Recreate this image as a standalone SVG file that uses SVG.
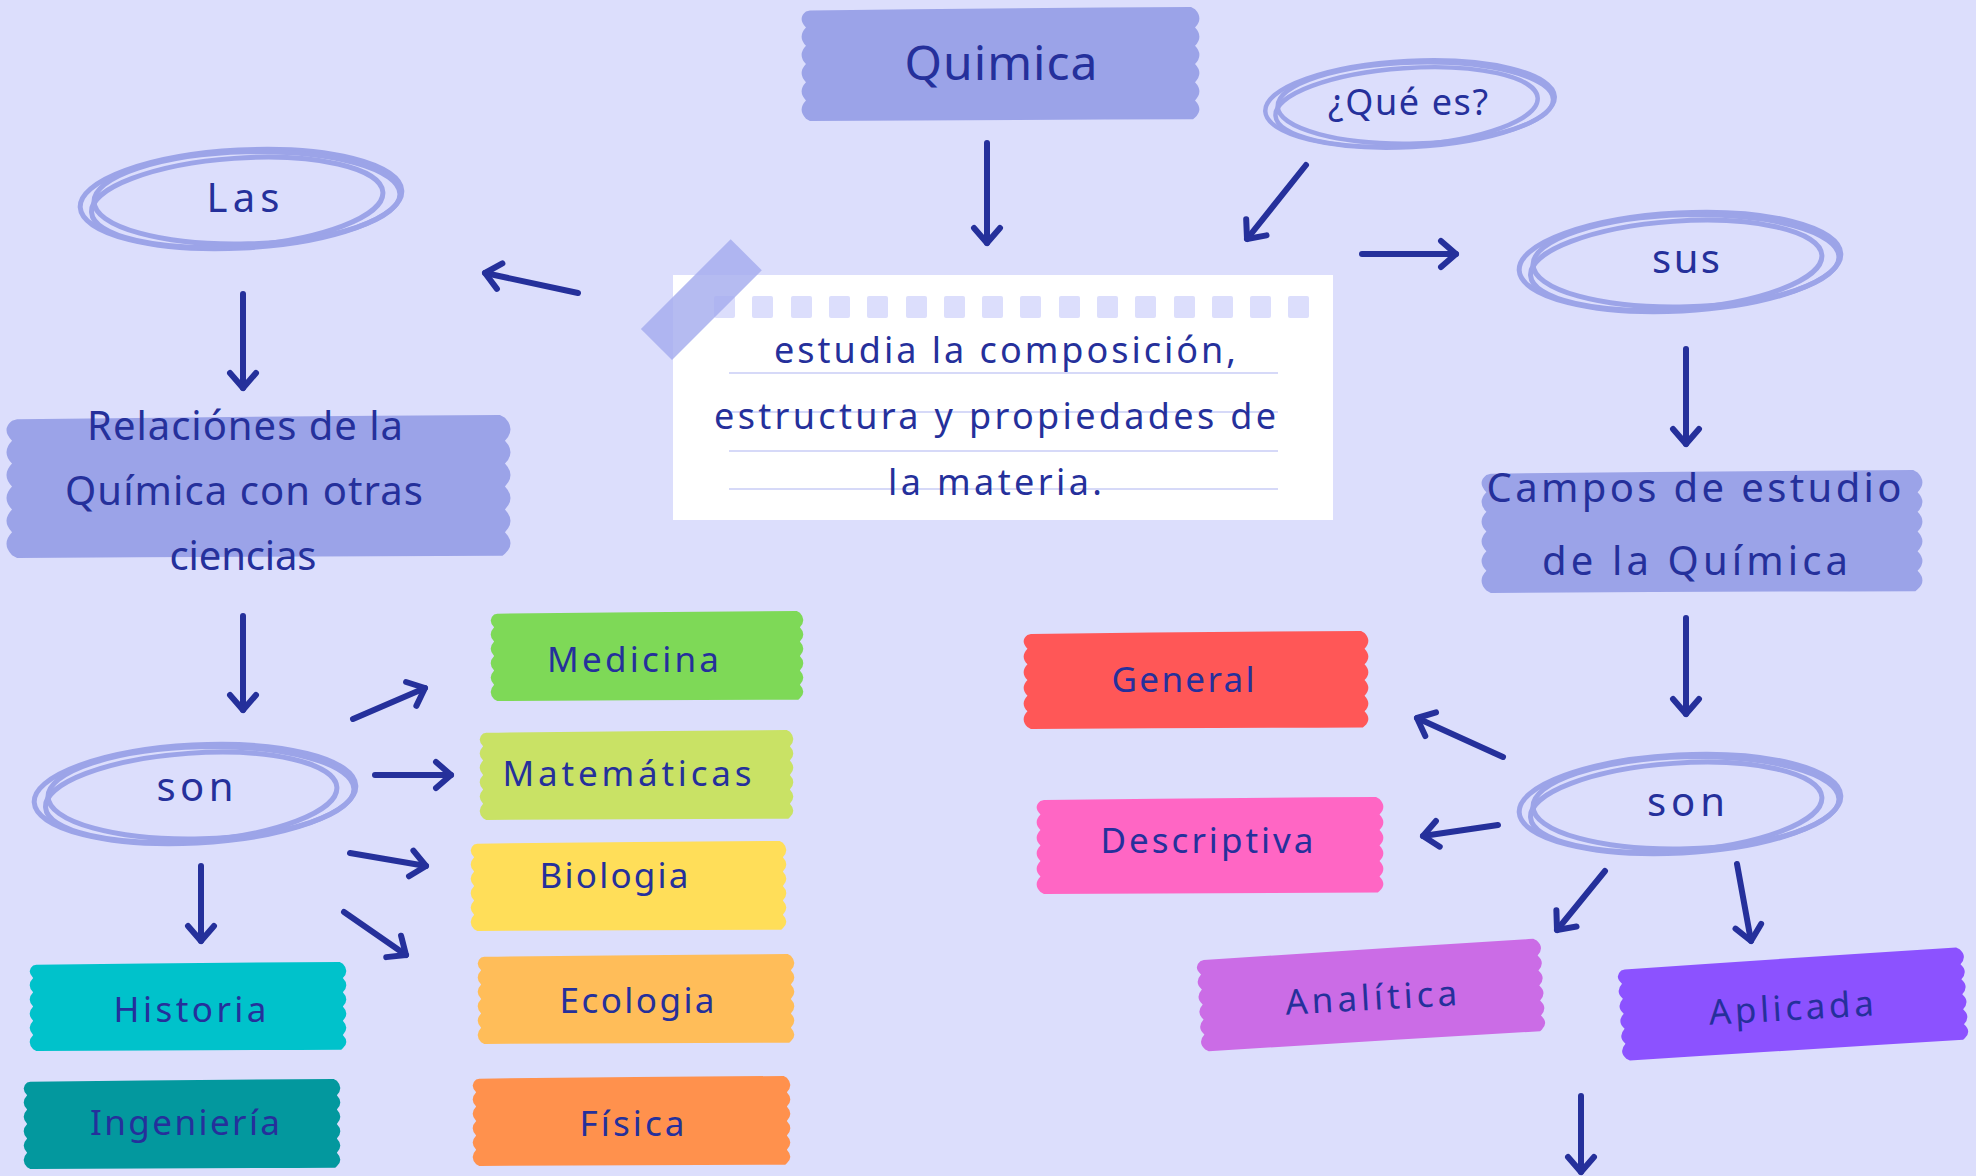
<svg xmlns="http://www.w3.org/2000/svg" xmlns:xlink="http://www.w3.org/1999/xlink" width="1976" height="1176" viewBox="0 0 1976 1176">
<style>
.t{font-family:"Noto Sans","Open Sans","DejaVu Sans",sans-serif;fill:#25309B;text-anchor:middle;}
.big{font-size:48px;}
.mid{font-size:40px;}
.note{font-size:36px;}
.lab{font-size:35px;}
.arrow{stroke:#25309B;stroke-width:6;stroke-linecap:round;fill:none;marker-end:url(#head);}
.scr ellipse{fill:none;stroke:#9CA4E8;stroke-width:5;}
.rule{stroke:#D6D9F8;stroke-width:2;}
.hole{fill:#DCDEFC;}
</style>
<defs>
<marker id="head" markerUnits="userSpaceOnUse" markerWidth="40" markerHeight="40" viewBox="-20 -20 40 40" refX="0" refY="0" orient="auto" overflow="visible">
<path d="M-15,-13 L0,0 L-15,13" fill="none" stroke="#25309B" stroke-width="6" stroke-linecap="round" stroke-linejoin="round"/>
</marker>
<path id="tape" d="M2,3 Q50,1 98,0 L99,2 Q101.2,10 99,18 Q101.2,26 99,34 Q101.2,42 99,50 Q101.2,58 99,66 Q101.2,74 99,82 Q101.2,90 99,97 L98.5,98.5 Q50,99 2,100 L1,98 Q-1.2,90 1,82 Q-1.2,74 1,66 Q-1.2,58 1,50 Q-1.2,42 1,34 Q-1.2,26 1,18 Q-1.2,10 1,4 Z"/>
<g id="scribble" class="scr">
<ellipse cx="0" cy="0" rx="161" ry="49" transform="rotate(-3)"/>
<ellipse cx="-4" cy="3" rx="146" ry="44" transform="rotate(-4)"/>
<ellipse cx="6" cy="-1" rx="153" ry="46" transform="rotate(-1.5)"/>
</g>
</defs>
<rect width="1976" height="1176" fill="#DCDEFC"/>

<g id="connectors">
<line class="arrow" x1="987" y1="143" x2="987" y2="243"/>
<line class="arrow" x1="1306" y1="165" x2="1247" y2="239"/>
<line class="arrow" x1="578" y1="293" x2="485" y2="273"/>
<line class="arrow" x1="1362" y1="254" x2="1456" y2="254"/>
<line class="arrow" x1="243" y1="294" x2="243" y2="388"/>
<line class="arrow" x1="1686" y1="349" x2="1686" y2="444"/>
<line class="arrow" x1="243" y1="616" x2="243" y2="710"/>
<line class="arrow" x1="353" y1="719" x2="425" y2="688"/>
<line class="arrow" x1="375" y1="775" x2="451" y2="775"/>
<line class="arrow" x1="350" y1="853" x2="426" y2="866"/>
<line class="arrow" x1="344" y1="912" x2="406" y2="955"/>
<line class="arrow" x1="201" y1="866" x2="201" y2="941"/>
<line class="arrow" x1="1686" y1="618" x2="1686" y2="714"/>
<line class="arrow" x1="1503" y1="757" x2="1417" y2="718"/>
<line class="arrow" x1="1498" y1="825" x2="1423" y2="836"/>
<line class="arrow" x1="1605" y1="871" x2="1557" y2="930"/>
<line class="arrow" x1="1737" y1="864" x2="1751" y2="941"/>
<line class="arrow" x1="1581" y1="1096" x2="1581" y2="1172"/>
</g>

<g id="quimica">
<use href="#tape" transform="translate(802,7) scale(3.97,1.14)" fill="#9BA3E8"/>
<text class="t big" x="1001" y="80" textLength="193">Quimica</text>
</g>

<g id="definicion">
<rect x="673" y="275" width="660" height="245" fill="#FFFFFF"/>
<g>
<rect class="hole" x="714" y="296" width="21" height="22" rx="2"/>
<rect class="hole" x="752" y="296" width="21" height="22" rx="2"/>
<rect class="hole" x="791" y="296" width="21" height="22" rx="2"/>
<rect class="hole" x="829" y="296" width="21" height="22" rx="2"/>
<rect class="hole" x="867" y="296" width="21" height="22" rx="2"/>
<rect class="hole" x="906" y="296" width="21" height="22" rx="2"/>
<rect class="hole" x="944" y="296" width="21" height="22" rx="2"/>
<rect class="hole" x="982" y="296" width="21" height="22" rx="2"/>
<rect class="hole" x="1020" y="296" width="21" height="22" rx="2"/>
<rect class="hole" x="1059" y="296" width="21" height="22" rx="2"/>
<rect class="hole" x="1097" y="296" width="21" height="22" rx="2"/>
<rect class="hole" x="1135" y="296" width="21" height="22" rx="2"/>
<rect class="hole" x="1174" y="296" width="21" height="22" rx="2"/>
<rect class="hole" x="1212" y="296" width="21" height="22" rx="2"/>
<rect class="hole" x="1250" y="296" width="21" height="22" rx="2"/>
<rect class="hole" x="1288" y="296" width="21" height="22" rx="2"/>
</g>
<line class="rule" x1="729" y1="373" x2="1278" y2="373"/>
<line class="rule" x1="729" y1="412" x2="1278" y2="412"/>
<line class="rule" x1="729" y1="451" x2="1278" y2="451"/>
<line class="rule" x1="729" y1="489" x2="1278" y2="489"/>
<rect x="638" y="278" width="127" height="44" fill="#A5ACEE" opacity="0.82" transform="rotate(-45 701 300)"/>
<text class="t note" x="1005" y="363" textLength="462">estudia la composición,</text>
<text class="t note" x="995" y="429" textLength="562">estructura y propiedades de</text>
<text class="t note" x="995" y="495" textLength="214">la materia.</text>
</g>

<g id="que-es">
<use href="#scribble" transform="translate(1410,104) scale(0.9,0.88)"/>
<text class="t note" x="1408" y="115" textLength="160">¿Qué es?</text>
</g>

<g id="las">
<use href="#scribble" transform="translate(241,199)"/>
<text class="t mid" x="243" y="212" textLength="73">Las</text>
</g>

<g id="sus">
<use href="#scribble" transform="translate(1680,262)"/>
<text class="t mid" x="1686" y="273" textLength="68">sus</text>
</g>

<g id="relaciones">
<use href="#tape" transform="translate(7,415) scale(5.03,1.43)" fill="#9BA3E8"/>
<text class="t mid" x="245" y="440" textLength="316">Relaciónes de la</text>
<text class="t mid" x="244" y="505" textLength="358">Química con otras</text>
<text class="t mid" x="243" y="570" textLength="147">ciencias</text>
</g>

<g id="campos">
<use href="#tape" transform="translate(1482,470) scale(4.4,1.23)" fill="#9BA3E8"/>
<text class="t mid" x="1694" y="502" textLength="415">Campos de estudio</text>
<text class="t mid" x="1695" y="575" textLength="306">de la Química</text>
</g>

<g id="son-izq">
<use href="#scribble" transform="translate(195,794)"/>
<text class="t mid" x="195" y="801" textLength="77">son</text>
</g>

<g id="son-der">
<use href="#scribble" transform="translate(1680,804)"/>
<text class="t mid" x="1686" y="816" textLength="78">son</text>
</g>

<g id="medicina">
<use href="#tape" transform="translate(491,611) scale(3.12,0.9)" fill="#7ED957"/>
<text class="t lab" x="633" y="672" textLength="172">Medicina</text>
</g>
<g id="matematicas">
<use href="#tape" transform="translate(480,730) scale(3.13,0.9)" fill="#C9E265"/>
<text class="t lab" x="627" y="786" textLength="249">Matemáticas</text>
</g>
<g id="biologia">
<use href="#tape" transform="translate(471,841) scale(3.15,0.9)" fill="#FFDE59"/>
<text class="t lab" x="614" y="888" textLength="149">Biologia</text>
</g>
<g id="ecologia">
<use href="#tape" transform="translate(478,954) scale(3.16,0.9)" fill="#FFBD59"/>
<text class="t lab" x="637" y="1013" textLength="155">Ecologia</text>
</g>
<g id="fisica">
<use href="#tape" transform="translate(473,1076) scale(3.17,0.9)" fill="#FF914D"/>
<text class="t lab" x="632" y="1136" textLength="105">Física</text>
</g>
<g id="historia">
<use href="#tape" transform="translate(30,962) scale(3.16,0.89)" fill="#00C2CB"/>
<text class="t lab" x="190" y="1022" textLength="153">Historia</text>
</g>
<g id="ingenieria">
<use href="#tape" transform="translate(24,1079) scale(3.16,0.9)" fill="#03989E"/>
<text class="t lab" x="185" y="1135" textLength="190">Ingeniería</text>
</g>

<g id="general">
<use href="#tape" transform="translate(1024,631) scale(3.44,0.98)" fill="#FF5757"/>
<text class="t lab" x="1183" y="692" textLength="143">General</text>
</g>
<g id="descriptiva">
<use href="#tape" transform="translate(1037,797) scale(3.46,0.97)" fill="#FF66C4"/>
<text class="t lab" x="1207" y="853" textLength="213">Descriptiva</text>
</g>
<g id="analitica" transform="rotate(-3.2 1371 995)">
<use href="#tape" transform="translate(1199,948) scale(3.44,0.94)" fill="#CB6CE6"/>
<text class="t lab" x="1371" y="1010" textLength="172">Analítica</text>
</g>
<g id="aplicada" transform="rotate(-3.3 1793 1004)">
<use href="#tape" transform="translate(1620,957) scale(3.46,0.94)" fill="#8C52FF"/>
<text class="t lab" x="1791" y="1020" textLength="165">Aplicada</text>
</g>
</svg>
